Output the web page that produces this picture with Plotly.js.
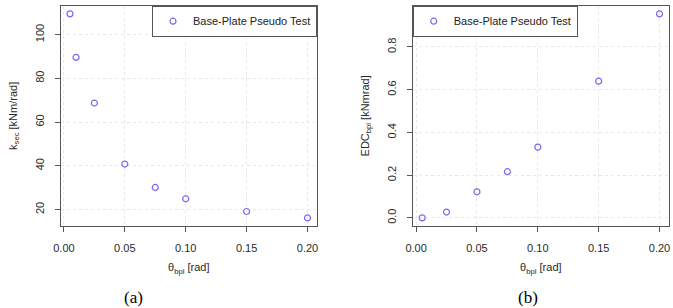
<!DOCTYPE html>
<html>
<head>
<meta charset="utf-8">
<script src="https://cdn.plot.ly/plotly-3.0.1.min.js"></script>
<style>
  html, body { margin: 0; padding: 0; background: #ffffff; }
  #chart { width: 673px; height: 308px; }
</style>
</head>
<body>
<div id="chart"></div>
<script>
// Secant stiffness of the base plate vs. rotation (panel a)
const thetaA = [0.005, 0.01, 0.025, 0.05, 0.075, 0.1, 0.15, 0.2];
const kSec = [109.5, 89.6, 68.7, 40.8, 30.1, 24.9, 19.1, 16.2];

// Energy dissipated per cycle vs. rotation (panel b)
const thetaB = [0.005, 0.025, 0.05, 0.075, 0.1, 0.15, 0.2];
const edc = [0.0, 0.027, 0.122, 0.216, 0.331, 0.64, 0.955];

const seriesName = 'Base-Plate Pseudo Test';
const xTickVals = [0, 0.05, 0.1, 0.15, 0.2];
const xTickText = ['0.00', '0.05', '0.10', '0.15', '0.20'];
const yTickValsA = [20, 40, 60, 80, 100];
const yTickTextA = ['20', '40', '60', '80', '100'];
const yTickValsB = [0, 0.2, 0.4, 0.6, 0.8];
const yTickTextB = ['0.0', '0.2', '0.4', '0.6', '0.8'];
const panelLabels = ['(a)', '(b)'];

// R-style axis limits: data range padded by 4% on each side
function padRange(v) {
  const lo = Math.min(...v), hi = Math.max(...v), d = (hi - lo) * 0.04;
  return [lo - d, hi + d];
}

const W = 673, H = 308;
const px = v => v / W;
const py = v => 1 - v / H;

const markerStyle = {
  symbol: 'circle-open',
  size: 6,
  color: '#7A67EE',
  line: { width: 1.2, color: '#7A67EE' }
};

const traces = [
  {
    x: thetaA, y: kSec, type: 'scatter', mode: 'markers',
    name: seriesName, marker: markerStyle,
    xaxis: 'x', yaxis: 'y', legend: 'legend'
  },
  {
    x: thetaB, y: edc, type: 'scatter', mode: 'markers',
    name: seriesName, marker: markerStyle,
    xaxis: 'x2', yaxis: 'y2', legend: 'legend2'
  }
];

const tickFont = { family: 'Liberation Sans, Arial, sans-serif', size: 11, color: '#2a2a2a' };

function xAxis(domain, anchor) {
  return {
    domain: domain, anchor: anchor,
    range: padRange(thetaA),
    tickmode: 'array', tickvals: xTickVals, ticktext: xTickText,
    ticks: 'outside', ticklen: 5, tickcolor: '#555555', tickwidth: 1,
    ticklabelstandoff: 7,
    showline: true, mirror: true, linecolor: '#555555', linewidth: 1,
    showgrid: true, gridcolor: '#e8e8e8', griddash: 'dot', gridwidth: 1,
    zeroline: false, tickfont: tickFont,
    title: { text: 'θ<sub>bpl</sub> [rad]', font: tickFont, standoff: 10 }
  };
}

function yAxis(domain, anchor, range, vals, text, title) {
  return {
    domain: domain, anchor: anchor, range: range,
    tickmode: 'array', tickvals: vals, ticktext: text, tickangle: -90,
    ticks: 'outside', ticklen: 5, tickcolor: '#555555', tickwidth: 1,
    ticklabelstandoff: 6,
    showline: true, mirror: true, linecolor: '#555555', linewidth: 1,
    showgrid: true, gridcolor: '#e8e8e8', griddash: 'dot', gridwidth: 1,
    zeroline: false, tickfont: tickFont,
    title: { text: title, font: tickFont, standoff: 14 }
  };
}

const yDom = [py(226), py(5.7)];
const legendBase = {
  bgcolor: '#ffffff', bordercolor: '#555555', borderwidth: 1,
  font: { family: 'Liberation Sans, Arial, sans-serif', size: 11, color: '#222222' },
  yanchor: 'top', itemwidth: 30
};

const layout = {
  width: W, height: H,
  margin: { l: 0, r: 0, t: 0, b: 0 },
  paper_bgcolor: '#ffffff', plot_bgcolor: '#ffffff',
  showlegend: true,
  xaxis: xAxis([px(60.5), px(317)], 'y'),
  yaxis: yAxis(yDom, 'x', padRange(kSec), yTickValsA, yTickTextA, 'k<sub>sec</sub> [kNm/rad]'),
  xaxis2: xAxis([px(412.7), px(669)], 'y2'),
  yaxis2: yAxis(yDom, 'x2', padRange(edc), yTickValsB, yTickTextB, 'EDC<sub>bpl</sub> [kNmrad]'),
  legend: Object.assign({}, legendBase, { x: px(317), xanchor: 'right', y: py(5.7) }),
  legend2: Object.assign({}, legendBase, { x: px(412.7), xanchor: 'left', y: py(5.7) }),
  annotations: panelLabels.map((t, i) => ({
    text: t, xref: 'paper', yref: 'paper',
    x: i === 0 ? px(133) : px(528), y: py(297),
    xanchor: 'center', yanchor: 'middle', showarrow: false,
    font: { family: 'Liberation Serif, Times New Roman, serif', size: 17, color: '#000000' }
  }))
};

Plotly.newPlot('chart', traces, layout, { displayModeBar: false, staticPlot: true });
</script>
</body>
</html>
